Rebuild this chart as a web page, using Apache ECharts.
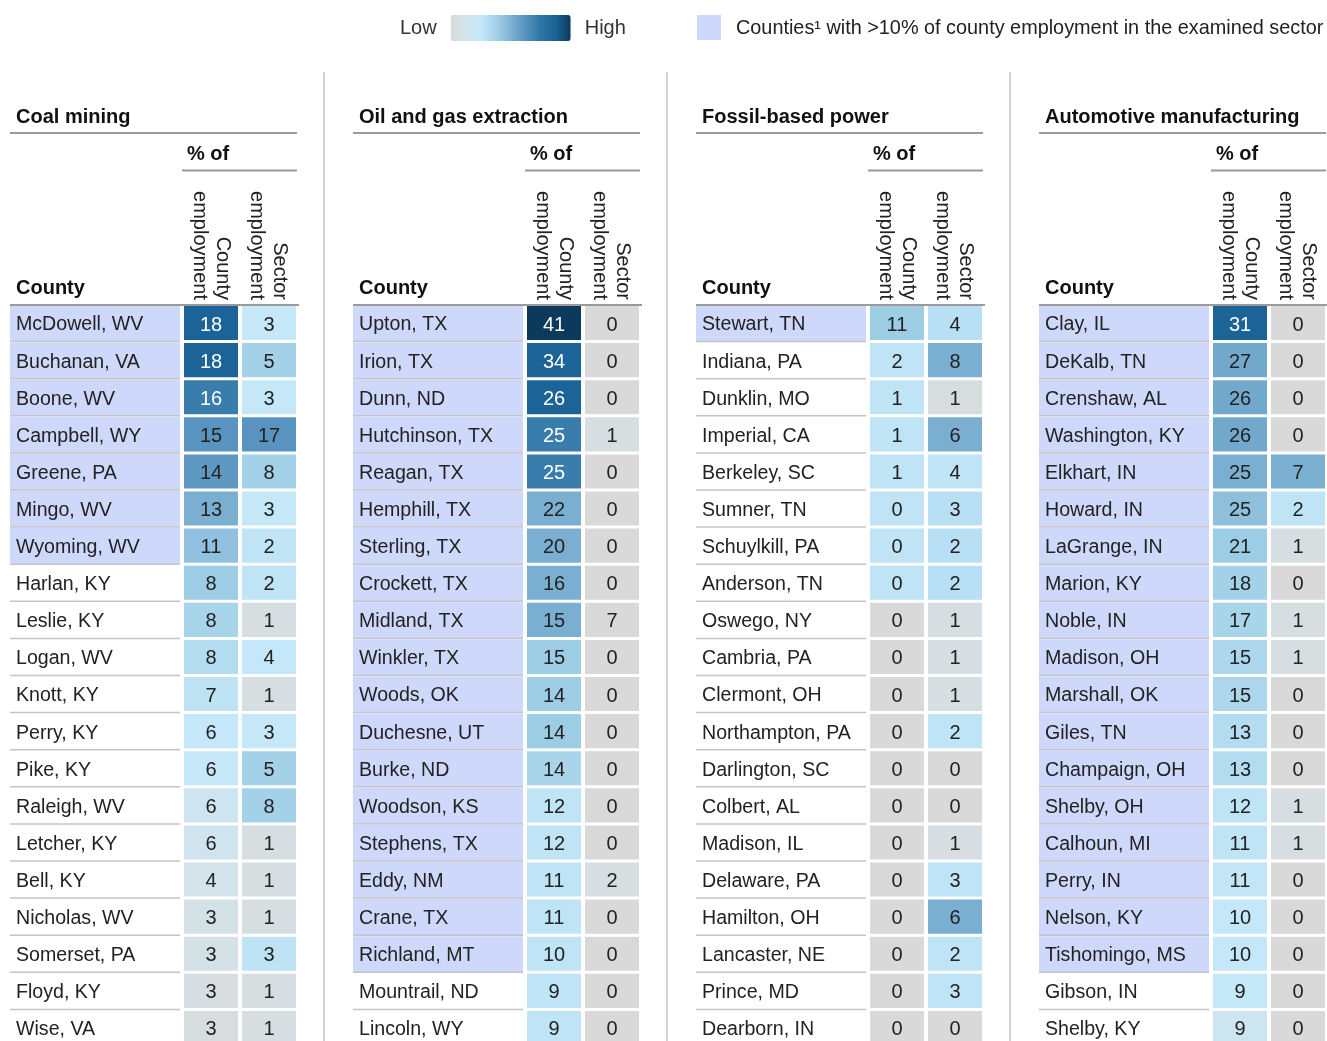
<!DOCTYPE html>
<html>
<head>
<meta charset="utf-8">
<script src="https://cdn.jsdelivr.net/npm/echarts@6/dist/echarts.min.js"></script>
<style>
  html, body { margin: 0; padding: 0; background: #fff; overflow: hidden; }
  #chart { width: 1327px; height: 1060px; }
</style>
</head>
<body>
<div id="chart"></div>
<script>
// Coal mining
const coalCounties = ['McDowell, WV', 'Buchanan, VA', 'Boone, WV', 'Campbell, WY', 'Greene, PA', 'Mingo, WV', 'Wyoming, WV',
  'Harlan, KY', 'Leslie, KY', 'Logan, WV', 'Knott, KY', 'Perry, KY', 'Pike, KY', 'Raleigh, WV', 'Letcher, KY', 'Bell, KY',
  'Nicholas, WV', 'Somerset, PA', 'Floyd, KY', 'Wise, VA'];
const coalCountyPct = [18, 18, 16, 15, 14, 13, 11, 8, 8, 8, 7, 6, 6, 6, 6, 4, 3, 3, 3, 3];
const coalSectorPct = [3, 5, 3, 17, 8, 3, 2, 2, 1, 4, 1, 3, 5, 8, 1, 1, 1, 3, 1, 1];
// heat level (0 = low, 100 = high)
const coalCountyShade = [87, 87, 72, 62, 60, 51, 44, 40, 36, 32, 28, 25, 23, 18, 16, 12, 11, 10, 5, 4];
const coalSectorShade = [24, 38, 24, 62, 38, 24, 27, 27, 6, 25, 6, 24, 38, 38, 6, 6, 6, 28, 6, 6];
const coalHighlighted = 7;

// Oil and gas extraction
const oilCounties = ['Upton, TX', 'Irion, TX', 'Dunn, ND', 'Hutchinson, TX', 'Reagan, TX', 'Hemphill, TX', 'Sterling, TX',
  'Crockett, TX', 'Midland, TX', 'Winkler, TX', 'Woods, OK', 'Duchesne, UT', 'Burke, ND', 'Woodson, KS', 'Stephens, TX',
  'Eddy, NM', 'Crane, TX', 'Richland, MT', 'Mountrail, ND', 'Lincoln, WY'];
const oilCountyPct = [41, 34, 26, 25, 25, 22, 20, 16, 15, 15, 14, 14, 14, 12, 12, 11, 11, 10, 9, 9];
const oilSectorPct = [0, 0, 0, 1, 0, 0, 0, 0, 7, 0, 0, 0, 0, 0, 0, 2, 0, 0, 0, 0];
const oilCountyShade = [100, 87, 87, 72, 72, 51, 51, 51, 51, 40, 40, 40, 36, 27, 27, 27, 27, 27, 27, 27];
const oilSectorShade = [0, 0, 0, 6, 0, 0, 0, 0, 0, 0, 0, 0, 0, 0, 0, 6, 0, 0, 0, 0];
const oilHighlighted = 18;

// Fossil-based power
const fossilCounties = ['Stewart, TN', 'Indiana, PA', 'Dunklin, MO', 'Imperial, CA', 'Berkeley, SC', 'Sumner, TN',
  'Schuylkill, PA', 'Anderson, TN', 'Oswego, NY', 'Cambria, PA', 'Clermont, OH', 'Northampton, PA', 'Darlington, SC',
  'Colbert, AL', 'Madison, IL', 'Delaware, PA', 'Hamilton, OH', 'Lancaster, NE', 'Prince, MD', 'Dearborn, IN'];
const fossilCountyPct = [11, 2, 1, 1, 1, 0, 0, 0, 0, 0, 0, 0, 0, 0, 0, 0, 0, 0, 0, 0];
const fossilSectorPct = [4, 8, 1, 6, 4, 3, 2, 2, 1, 1, 1, 2, 0, 0, 1, 3, 6, 2, 3, 0];
const fossilCountyShade = [40, 27, 27, 27, 27, 27, 27, 27, 0, 0, 0, 0, 0, 0, 0, 0, 0, 0, 0, 0];
const fossilSectorShade = [30, 51, 4, 51, 27, 30, 30, 30, 6, 6, 6, 27, 0, 0, 6, 27, 51, 27, 27, 0];
const fossilHighlighted = 1;

// Automotive manufacturing
const autoCounties = ['Clay, IL', 'DeKalb, TN', 'Crenshaw, AL', 'Washington, KY', 'Elkhart, IN', 'Howard, IN',
  'LaGrange, IN', 'Marion, KY', 'Noble, IN', 'Madison, OH', 'Marshall, OK', 'Giles, TN', 'Champaign, OH', 'Shelby, OH',
  'Calhoun, MI', 'Perry, IN', 'Nelson, KY', 'Tishomingo, MS', 'Gibson, IN', 'Shelby, KY'];
const autoCountyPct = [31, 27, 26, 26, 25, 25, 21, 18, 17, 15, 15, 13, 13, 12, 11, 11, 10, 10, 9, 9];
const autoSectorPct = [0, 0, 0, 0, 7, 2, 1, 0, 1, 1, 0, 0, 0, 1, 1, 0, 0, 0, 0, 0];
const autoCountyShade = [87, 54, 54, 54, 51, 45, 40, 38, 36, 35, 35, 32, 32, 27, 27, 26, 25, 25, 24, 18];
const autoSectorShade = [0, 0, 0, 0, 51, 27, 6, 0, 6, 6, 0, 0, 0, 6, 6, 0, 0, 0, 0, 0];
const autoHighlighted = 18;

const columnNames = ['County employment', 'Sector employment'];

const panels = [
  { title: 'Coal mining', counties: coalCounties, county: coalCountyPct, sector: coalSectorPct,
    countyShade: coalCountyShade, sectorShade: coalSectorShade, hi: coalHighlighted },
  { title: 'Oil and gas extraction', counties: oilCounties, county: oilCountyPct, sector: oilSectorPct,
    countyShade: oilCountyShade, sectorShade: oilSectorShade, hi: oilHighlighted },
  { title: 'Fossil-based power', counties: fossilCounties, county: fossilCountyPct, sector: fossilSectorPct,
    countyShade: fossilCountyShade, sectorShade: fossilSectorShade, hi: fossilHighlighted },
  { title: 'Automotive manufacturing', counties: autoCounties, county: autoCountyPct, sector: autoSectorPct,
    countyShade: autoCountyShade, sectorShade: autoSectorShade, hi: autoHighlighted }
];

const FONT = '"Liberation Sans", Arial, sans-serif';
const TEXT = '#222';
const LAVENDER = '#cdd8fb';
const PANEL_X = [10, 353, 696, 1039];
const ROW_TOP = 304.5;
const ROW_H = 37.1;

const chart = echarts.init(document.getElementById('chart'));

const grid = [], xAxis = [], yAxis = [], series = [], graphic = [];
const valueSeriesIdx = [];

// Name column: lavender fill for highlighted counties, grey rule under each row
const renderName = (names) => (params, api) => {
  const row = api.value(1);
  const c = api.coord([0, row]);
  const s = api.size([1, 1]);
  const left = c[0] - s[0] / 2, top = c[1] - s[1] / 2;
  return {
    type: 'group',
    children: [
      { type: 'rect', shape: { x: left, y: top + 1, width: s[0], height: s[1] - 1 },
        style: { fill: api.value(2) ? LAVENDER : 'rgba(0,0,0,0)' } },
      { type: 'line', shape: { x1: left, y1: top + s[1], x2: left + s[0], y2: top + s[1] },
        style: { stroke: '#c4c4c4', lineWidth: 1.5 } },
      { type: 'text', x: left + 6, y: c[1] + 2,
        style: { text: names[params.dataIndex], fill: TEXT, font: `19.6px ${FONT}`, align: 'left', verticalAlign: 'middle' } }
    ]
  };
};

// Value cells coloured through the visualMap
const renderValue = (params, api) => {
  const c = api.coord([api.value(0), api.value(1)]);
  const s = api.size([1, 1]);
  const w = s[0] - 4, h = s[1] - 3;
  const shade = api.value(3);
  return {
    type: 'group',
    children: [
      { type: 'rect', shape: { x: c[0] - w / 2, y: c[1] - h / 2, width: w, height: h },
        style: { fill: api.visual('color') } },
      { type: 'text', x: c[0], y: c[1] + 2,
        style: { text: String(api.value(2)), fill: shade >= 70 ? '#fff' : TEXT, font: `20px ${FONT}`,
          align: 'center', verticalAlign: 'middle' } }
    ]
  };
};

panels.forEach((p, i) => {
  const x0 = PANEL_X[i];
  const rows = p.counties.map((_, k) => k);

  // grid for county names
  grid.push({ left: x0, top: ROW_TOP, width: 170, height: ROW_H * 20 });
  // grid for the two value columns
  grid.push({ left: x0 + 172, top: ROW_TOP, width: 116, height: ROW_H * 20 });

  xAxis.push({ type: 'category', gridIndex: 2 * i, data: ['County'], show: false });
  xAxis.push({ type: 'category', gridIndex: 2 * i + 1, data: columnNames, show: false });
  yAxis.push({ type: 'category', gridIndex: 2 * i, data: rows, inverse: true, show: false });
  yAxis.push({ type: 'category', gridIndex: 2 * i + 1, data: rows, inverse: true, show: false });

  series.push({
    type: 'custom', name: p.title + ' counties', xAxisIndex: 2 * i, yAxisIndex: 2 * i,
    renderItem: renderName(p.counties),
    data: rows.map(k => [0, k, k < p.hi ? 1 : 0]),
    silent: true
  });
  const cells = [];
  rows.forEach(k => {
    cells.push([0, k, p.county[k], p.countyShade[k]]);
    cells.push([1, k, p.sector[k], p.sectorShade[k]]);
  });
  valueSeriesIdx.push(series.length);
  series.push({
    type: 'custom', name: p.title, xAxisIndex: 2 * i + 1, yAxisIndex: 2 * i + 1,
    renderItem: renderValue,
    encode: { x: 0, y: 1 },
    data: cells,
    silent: true
  });

  // headers
  graphic.push(
    { type: 'text', left: x0 + 6, top: 107, z: 10,
      style: { text: p.title, font: `bold 20px ${FONT}`, fill: '#111' } },
    { type: 'line', z: 10, shape: { x1: x0, y1: 133, x2: x0 + 287, y2: 133 }, style: { stroke: '#9a9a9a', lineWidth: 2 } },
    { type: 'text', left: x0 + 177, top: 144, z: 10,
      style: { text: '% of', font: `bold 20px ${FONT}`, fill: '#111' } },
    { type: 'line', z: 10, shape: { x1: x0 + 172, y1: 170.5, x2: x0 + 287, y2: 170.5 }, style: { stroke: '#9a9a9a', lineWidth: 2 } },
    { type: 'text', left: x0 + 6, top: 278, z: 10,
      style: { text: 'County', font: `bold 20px ${FONT}`, fill: '#111' } },
    { type: 'text', x: x0 + 201, y: 300, rotation: -Math.PI / 2, z: 10,
      style: { text: 'County\nemployment', font: `20px ${FONT}`, lineHeight: 23, fill: TEXT, align: 'right', verticalAlign: 'middle' } },
    { type: 'text', x: x0 + 258, y: 300, rotation: -Math.PI / 2, z: 10,
      style: { text: 'Sector\nemployment', font: `20px ${FONT}`, lineHeight: 23, fill: TEXT, align: 'right', verticalAlign: 'middle' } },
    { type: 'line', z: 10, shape: { x1: x0, y1: 305, x2: x0 + 289, y2: 305 }, style: { stroke: '#9a9a9a', lineWidth: 2 } }
  );
  if (i > 0) {
    graphic.push({ type: 'line', z: 10, shape: { x1: x0 - 29, y1: 72, x2: x0 - 29, y2: 1060 },
      style: { stroke: '#d2d2d2', lineWidth: 2 } });
  }
});

// legend for highlighted counties
graphic.push(
  { type: 'rect', z: 10, shape: { x: 697, y: 15, width: 24, height: 25 }, style: { fill: LAVENDER } },
  { type: 'text', z: 10, left: 736, top: 19,
    style: { text: 'Counties\u00b9 with >10% of county employment in the examined sector', font: `19.85px ${FONT}`, fill: TEXT } }
);

const option = {
  animation: false,
  backgroundColor: '#fff',
  textStyle: { fontFamily: FONT },
  grid, xAxis, yAxis, series, graphic,
  visualMap: {
    type: 'continuous',
    seriesIndex: valueSeriesIdx,
    dimension: 3,
    min: 0,
    max: 100,
    calculable: false,
    orient: 'horizontal',
    left: 385,
    top: 0,
    itemWidth: 26,
    itemHeight: 120,
    text: ['High', 'Low'],
    textGap: 14,
    textStyle: { fontSize: 20, color: '#333', fontFamily: FONT },
    inRange: {
      color: ['#d9d9d9', '#d3e3ea', '#c4e8f9', '#a5d2e9', '#7eb2d3', '#5792be', '#2e76a6', '#1b6396', '#0b3a5c']
    }
  }
};

chart.setOption(option);
</script>
</body>
</html>
